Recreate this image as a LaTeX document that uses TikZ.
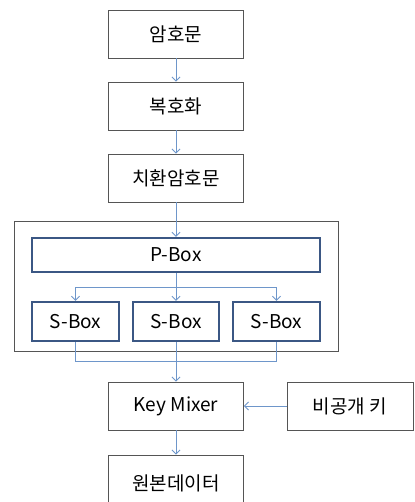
\documentclass[tikz,border=0pt]{standalone}
\usepackage{fontspec}
\setmainfont{Noto Sans CJK KR}
\usetikzlibrary{arrows.meta}
\definecolor{boxline}{HTML}{555555}
\definecolor{arrowc}{HTML}{6E96CA}
\definecolor{bluebox}{HTML}{3B5784}
\tikzset{
  plainbox/.style={draw=boxline, line width=0.9pt, fill=white, minimum width=135pt, minimum height=48pt, inner sep=0pt, font=\fontsize{19}{21}\selectfont},
  thickbox/.style={draw=bluebox, line width=2.4pt, fill=white, inner sep=0pt, font=\fontsize{19}{21}\selectfont},
  arr/.style={draw=arrowc, line width=0.8pt, -{Straight Barb[length=4pt,width=8pt]}},
  conn/.style={draw=arrowc, line width=0.8pt},
}
\begin{document}
\begin{tikzpicture}[x=1pt,y=-1pt]
\useasboundingbox (0,0) rectangle (414,502);
\begin{scope}
\clip (0,0) rectangle (414,502);
% outer frame
\node[draw=boxline, line width=0.9pt, minimum width=324pt, minimum height=130pt, inner sep=0pt] (frame) at (176,286) {};
\node[plainbox] (a) at (176,34) {암호문};
\node[plainbox] (b) at (176,106) {복호화};
\node[plainbox] (c) at (176,178) {치환암호문};
\node[thickbox, minimum width=288pt, minimum height=34pt] (p) at (176,255) {P-Box};
\node[thickbox, minimum width=87pt, minimum height=39pt] (s1) at (75.5,321.5) {S-Box};
\node[thickbox, minimum width=86pt, minimum height=39pt] (s2) at (176,321.5) {S-Box};
\node[thickbox, minimum width=87pt, minimum height=39pt] (s3) at (276.5,321.5) {S-Box};
\node[plainbox] (km) at (176,406) {Key Mixer};
\node[plainbox, minimum width=126pt] (key) at (350,406) {비공개 키};
\node[plainbox, minimum height=56pt] (out) at (176,483) {원본데이터};
\coordinate (dm) at (176,287);
\coordinate (mm) at (176,361);
\draw[arr] (a) -- (b);
\draw[arr] (b) -- (c);
\draw[arr] (c) -- (p);
\draw[arr] (p) -- (s2);
\draw[arr] (dm) -| (s1);
\draw[arr] (dm) -| (s3);
\draw[conn] (s1) |- (mm);
\draw[conn] (s3) |- (mm);
\draw[arr] (s2) -- (km);
\draw[arr] (key) -- (km);
\draw[arr] (km) -- (out);
\end{scope}
\end{tikzpicture}
\end{document}
